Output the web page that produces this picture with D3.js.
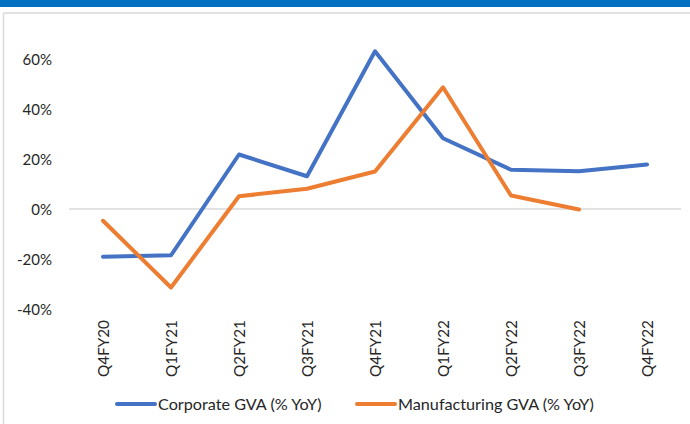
<!DOCTYPE html>
<html><head><meta charset="utf-8">
<script src="https://cdn.jsdelivr.net/npm/d3@7"></script>
<style>
html,body{margin:0;padding:0;background:#fff;}
svg{display:block;}
text{font-family:Lato,"Open Sans",sans-serif;fill:#262626;}
</style></head>
<body>
<svg id="chart" width="690" height="424"></svg>
<script>
const categories = ["Q4FY20","Q1FY21","Q2FY21","Q3FY21","Q4FY21","Q1FY22","Q2FY22","Q3FY22","Q4FY22"];
const corporateGVA = [-19.1, -18.5, 21.8, 13.1, 63.1, 28.3, 15.7, 15.1, 17.8];
const manufacturingGVA = [-4.7, -31.4, 5.1, 8.1, 15.0, 48.7, 5.4, -0.2, null];
const yTicks = [-40, -20, 0, 20, 40, 60];
const seriesNames = ["Corporate GVA (% YoY)", "Manufacturing GVA (% YoY)"];
const seriesColors = ["#4472C4", "#ED7D31"];

const svg = d3.select("#chart");
// top banner and frame
svg.append("rect").attr("x",0).attr("y",0).attr("width",690).attr("height",7).attr("fill","#0070C0");
svg.append("line").attr("x1",3.5).attr("x2",690).attr("y1",13).attr("y2",13).attr("stroke","#D9D9D9").attr("stroke-width",1.5);
svg.append("line").attr("x1",3.5).attr("x2",3.5).attr("y1",13).attr("y2",424).attr("stroke","#D9D9D9").attr("stroke-width",1.5);

const x = d3.scaleBand().domain(categories).range([69, 681]).padding(0);
const cx = c => x(c) + x.bandwidth()/2;
const y = d3.scaleLinear().domain([-40, 70]).range([309, 34]);

// zero line
svg.append("line").attr("x1",69).attr("x2",681).attr("y1",y(0)).attr("y2",y(0))
  .attr("stroke","#D9D9D9").attr("stroke-width",1.5);

// y axis labels
const yAxis = d3.axisLeft(y).tickValues(yTicks).tickSize(0).tickPadding(0).tickFormat(d => d + "%");
const yg = svg.append("g").attr("transform","translate(52,0)").call(yAxis);
yg.select(".domain").remove();
yg.selectAll("text").attr("font-size",15).attr("font-family","Lato,'Open Sans',sans-serif").attr("fill","#262626").attr("dy","0.35em");

// x axis labels (rotated)
const xAxis = d3.axisBottom(x).tickSize(0).tickPadding(0);
const xg = svg.append("g").attr("transform","translate(0,0)").call(xAxis);
xg.select(".domain").remove();
xg.selectAll(".tick").attr("transform", d => `translate(${cx(d)},320)`);
xg.selectAll("text").attr("transform","rotate(-90)").attr("x",0).attr("y",0).attr("dy","0.36em")
  .attr("text-anchor","end").attr("font-size",15.3).attr("font-family","Lato,'Open Sans',sans-serif").attr("fill","#262626");

// lines
const line = d3.line().defined(d => d.v !== null).x(d => cx(d.c)).y(d => y(d.v));
[corporateGVA, manufacturingGVA].forEach((vals, i) => {
  svg.append("path").datum(categories.map((c, j) => ({c, v: vals[j]})))
    .attr("d", line).attr("fill","none").attr("stroke", seriesColors[i])
    .attr("stroke-width",4).attr("stroke-linejoin","round").attr("stroke-linecap","round");
});

// legend
const legendX = [117, 357];
seriesNames.forEach((name, i) => {
  const g = svg.append("g").attr("transform", `translate(${legendX[i]},404)`);
  g.append("line").attr("x1",0).attr("x2",38).attr("y1",0).attr("y2",0)
    .attr("stroke", seriesColors[i]).attr("stroke-width",4).attr("stroke-linecap","round");
  g.append("text").attr("x",41).attr("y",0).attr("dy","0.35em").attr("font-size",16.2).text(name);
});
</script>
</body></html>
